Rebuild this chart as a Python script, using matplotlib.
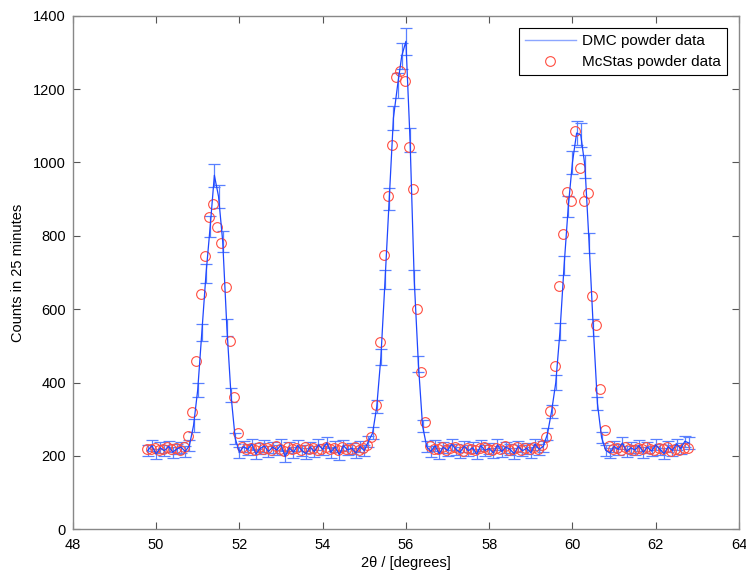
import numpy as np
import matplotlib
matplotlib.use("Agg")
import matplotlib.pyplot as plt
from matplotlib.lines import Line2D

plt.rcParams['font.family'] = ['Liberation Sans', 'DejaVu Sans']

# DMC measured data, 0.1 degree steps from 49.8
dmc_start, dmc_step = 49.8, 0.1
dmc_counts = [
    215, 228, 205, 222, 214, 226, 210, 219, 224, 212,
    228, 283, 380, 537, 697, 826, 965, 907, 785, 550,
    365, 248, 210, 225, 218, 232, 205, 220, 227, 212,
    224, 216, 230, 198, 222, 210, 228, 215, 206, 224,
    212, 230, 218, 236, 210, 225, 203, 228, 216, 221,
    208, 226, 214, 240, 262, 334, 470, 680, 900, 1121,
    1210, 1290, 1330, 1060, 680, 450, 282, 225, 212, 228,
    206, 224, 215, 232, 218, 210, 226, 214, 222, 205,
    228, 215, 220, 208, 230, 212, 224, 218, 206, 226,
    214, 221, 209, 232, 218, 226, 260, 322, 400, 538,
    719, 880, 1000, 1080, 1075, 990, 780, 550, 343, 250,
    215, 208, 226, 218, 235, 212, 222, 216, 228, 210,
    224, 213, 230, 218, 206, 225, 215, 232, 220, 240,
    235,
]

# McStas simulated data
mc_start, mc_step = 49.77, 0.1
mc_counts = [
    220, 218, 222, 216, 220, 224, 219, 221, 217, 223,
    255, 320, 460, 640, 745, 852, 886, 823, 781, 661,
    512, 360, 263, 225, 218, 222, 215, 224, 219, 221,
    217, 226, 220, 214, 223, 218, 221, 216, 224, 219,
    222, 215, 220, 225, 218, 221, 216, 223, 219, 220,
    224, 217, 221, 230, 252, 338, 510, 747, 909, 1048,
    1234, 1250, 1223, 1043, 928, 600, 429, 293, 228, 220,
    218, 223, 216, 221, 225, 219, 214, 222, 220, 217,
    221, 224, 218, 215, 222, 220, 226, 217, 219, 223,
    216, 221, 218, 224, 220, 230, 251, 322, 445, 663,
    804, 919, 895, 1086, 984, 896, 916, 636, 556, 381,
    270, 226, 219, 222, 217, 224, 220, 215, 221, 218,
    223, 219, 216, 222, 218, 225, 214, 220, 217, 221,
    222,
]

dmc_y = np.array(dmc_counts, dtype=float)
dmc_x = dmc_start + dmc_step * np.arange(len(dmc_y))
dmc_err = np.sqrt(dmc_y)
mc_y = np.array(mc_counts, dtype=float)
mc_x = mc_start + mc_step * np.arange(len(mc_y))

fig = plt.figure(figsize=(7.46, 5.72), dpi=100)
ax = fig.add_axes([0.0976, 0.0747, 0.8930, 0.8979])

blue = (0.12, 0.28, 1.0)
red = (1.0, 0.3, 0.25)
ax.errorbar(dmc_x, dmc_y, yerr=dmc_err, color=blue, ecolor=(0.35, 0.5, 1.0),
            lw=0.9, elinewidth=0.9, capsize=4.5, capthick=0.9)
ax.plot(mc_x, mc_y, 'o', mfc='none', mec=red, ms=7, mew=0.8)

ax.set_xlim(48, 64)
ax.set_ylim(0, 1400)
ax.set_xticks(np.arange(48, 65, 2))
ax.set_yticks(np.arange(0, 1401, 200))
ax.tick_params(direction='in', top=True, right=True, length=5, width=0.8,
               labelsize=10.5, color='#555555')
ax.tick_params(axis='x', pad=6)
ax.tick_params(axis='y', pad=5)
for s in ax.spines.values():
    s.set_color('#888888')
    s.set_linewidth(1.0)

ax.set_xlabel('2θ / [degrees]', fontsize=10.5, labelpad=3)
ax.set_ylabel('Counts in 25 minutes', fontsize=10.5, labelpad=6)

h1 = Line2D([], [], color=(0.55, 0.65, 1.0), lw=1.0)
h2 = Line2D([], [], ls='none', marker='o', mfc='none', mec=red, ms=7, mew=0.8)
leg = ax.legend([h1, h2], ['DMC powder data', 'McStas powder data'],
                loc='upper right', fancybox=False, framealpha=1, fontsize=11,
                borderaxespad=0.8, handlelength=3.3, borderpad=0.4,
                labelspacing=0.45, handletextpad=0.4)
leg.get_frame().set_edgecolor('black')
leg.get_frame().set_linewidth(0.8)

fig.savefig('out.png', dpi=100)
